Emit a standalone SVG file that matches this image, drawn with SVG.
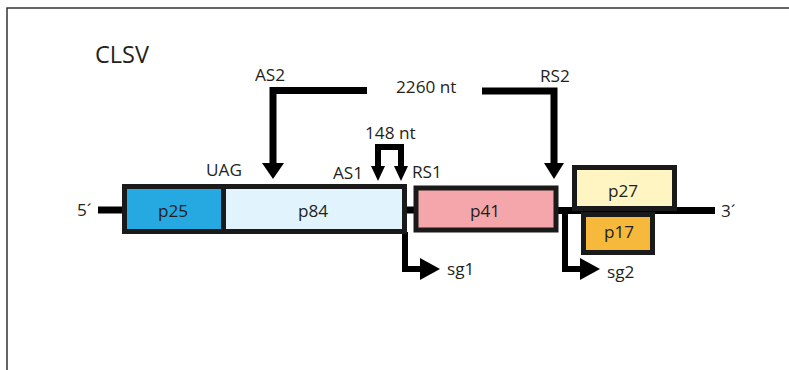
<svg xmlns="http://www.w3.org/2000/svg" width="789" height="370" viewBox="0 0 789 370">
  <style>
    text { font-family: "Open Sans", "Liberation Sans", sans-serif; fill: #231f20; }
    .lbl { font-size: 17.2px; }
    .mid { text-anchor: middle; }
    .box { stroke: #1a1a1a; stroke-width: 5; }
    .line { stroke: #000; fill: none; stroke-linejoin: miter; }
    .head { fill: #000; }
  </style>
  <rect width="789" height="370" fill="#fff"/>
  <path d="M7,370 V8 H789" fill="none" stroke="#333" stroke-width="1.5"/>
  <text x="95" y="63" font-size="23.5">CLSV</text>

  <g id="connectors">
    <!-- genome backbone -->
    <path class="line" d="M98,210 H124" stroke-width="7"/>
    <path class="line" d="M405,210 H415" stroke-width="7"/>
    <path class="line" d="M557,210.5 H715" stroke-width="7"/>
    <!-- AS2 / RS2 2260 nt -->
    <path class="line" d="M367,90.5 H273 V165" stroke-width="7"/>
    <polygon class="head" points="262,163 284,163 273,179"/>
    <path class="line" d="M482,91 H554 V165" stroke-width="7"/>
    <polygon class="head" points="544,163 564,163 554,179"/>
    <!-- 148 nt -->
    <path class="line" d="M378,168 V147 H401 V168" stroke-width="6"/>
    <polygon class="head" points="371,166 385,166 378,181"/>
    <polygon class="head" points="394,166 408,166 401,181"/>
    <!-- sg1 -->
    <path class="line" d="M405,232 V269 H422" stroke-width="6"/>
    <polygon class="head" points="420,258 420,280 440,269"/>
    <!-- sg2 -->
    <path class="line" d="M565,212 V269 H582" stroke-width="6"/>
    <polygon class="head" points="580,258 580,280 600,269"/>
  </g>

  <g id="p25">
    <rect class="box" x="124.5" y="186.5" width="99" height="45" fill="#25a9e0"/>
    <text class="lbl mid" x="173" y="217">p25</text>
  </g>
  <g id="p84">
    <rect class="box" x="223.5" y="186.5" width="181" height="45" fill="#e1f3fc"/>
    <text class="lbl mid" x="313" y="217">p84</text>
  </g>
  <g id="p41">
    <rect class="box" x="416" y="188" width="140" height="42" fill="#f4a6ab"/>
    <text class="lbl mid" x="485" y="217">p41</text>
  </g>
  <g id="p27">
    <rect class="box" x="574.5" y="167.5" width="100" height="41" fill="#fff5c3"/>
    <text class="lbl mid" x="623" y="197">p27</text>
  </g>
  <g id="p17">
    <rect class="box" x="583.5" y="214.5" width="69" height="38" fill="#f6b93b"/>
    <text class="lbl mid" x="619" y="238">p17</text>
  </g>

  <g id="labels">
    <text class="lbl" x="77" y="216">5´</text>
    <text class="lbl" x="721" y="217">3´</text>
    <text class="lbl" x="206" y="176">UAG</text>
    <text class="lbl" x="255" y="81">AS2</text>
    <text class="lbl" x="396" y="93">2260 nt</text>
    <text class="lbl" x="540" y="82">RS2</text>
    <text class="lbl" x="365" y="139">148 nt</text>
    <text class="lbl" x="333" y="179">AS1</text>
    <text class="lbl" x="412" y="178">RS1</text>
    <text class="lbl" x="447" y="275">sg1</text>
    <text class="lbl" x="607" y="278">sg2</text>
  </g>
</svg>
